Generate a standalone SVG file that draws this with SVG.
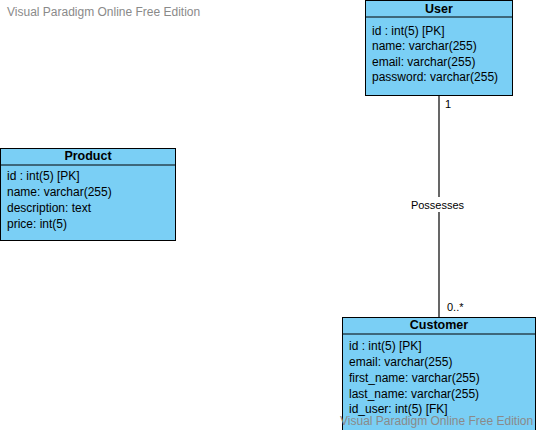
<svg xmlns="http://www.w3.org/2000/svg" width="538" height="430" viewBox="0 0 538 430">
<style>
.box{fill:#7acff5;stroke:#000;stroke-width:1}
.sep{stroke:#000;stroke-width:1}
.title{font-family:"Liberation Sans",Arial,sans-serif;font-size:12.5px;font-weight:bold;fill:#000;text-anchor:middle}
.attr{font-family:"Liberation Sans",Arial,sans-serif;font-size:12px;fill:#000}
.lbl{font-family:"Liberation Sans",Arial,sans-serif;font-size:11px;fill:#000}
.wm{font-family:"Liberation Sans",Arial,sans-serif;font-size:12px;fill:#8a8a8a}
</style>
<rect width="538" height="430" fill="#fff"/>
<text class="wm" x="7" y="16">Visual Paradigm Online Free Edition</text>
<g id="connectors">
<line x1="439" y1="95" x2="439" y2="317" stroke="#000" stroke-width="1.2"/>
<rect x="408" y="197" width="60" height="15" fill="#fff"/>
<text class="lbl" x="437.5" y="209" text-anchor="middle">Possesses</text>
<text class="lbl" x="445" y="108">1</text>
<text class="lbl" x="447" y="311">0..*</text>
</g>
<g id="user">
<rect class="box" x="365.5" y="0.5" width="147" height="95"/>
<line class="sep" x1="365.5" y1="17" x2="512.5" y2="17"/>
<text class="title" x="439" y="12.5">User</text>
<text class="attr" x="372" y="34.5">id : int(5) [PK]</text>
<text class="attr" x="372" y="50">name: varchar(255)</text>
<text class="attr" x="372" y="65.5">email: varchar(255)</text>
<text class="attr" x="372" y="81">password: varchar(255)</text>
</g>
<g id="product">
<rect class="box" x="0.5" y="148.5" width="175" height="92"/>
<line class="sep" x1="0.5" y1="165" x2="175.5" y2="165"/>
<text class="title" x="88" y="160">Product</text>
<text class="attr" x="7" y="180">id : int(5) [PK]</text>
<text class="attr" x="7" y="196">name: varchar(255)</text>
<text class="attr" x="7" y="212">description: text</text>
<text class="attr" x="7" y="228">price: int(5)</text>
</g>
<g id="customer">
<rect class="box" x="342.5" y="317.5" width="193" height="120"/>
<line class="sep" x1="342.5" y1="334" x2="535.5" y2="334"/>
<text class="title" x="439" y="329">Customer</text>
<text class="attr" x="349" y="349.5">id : int(5) [PK]</text>
<text class="attr" x="349" y="365.5">email: varchar(255)</text>
<text class="attr" x="349" y="381.5">first_name: varchar(255)</text>
<text class="attr" x="349" y="397.5">last_name: varchar(255)</text>
<text class="attr" x="349" y="413">id_user: int(5) [FK]</text>
</g>
<text class="wm" x="340" y="425">Visual Paradigm Online Free Edition</text>
</svg>
